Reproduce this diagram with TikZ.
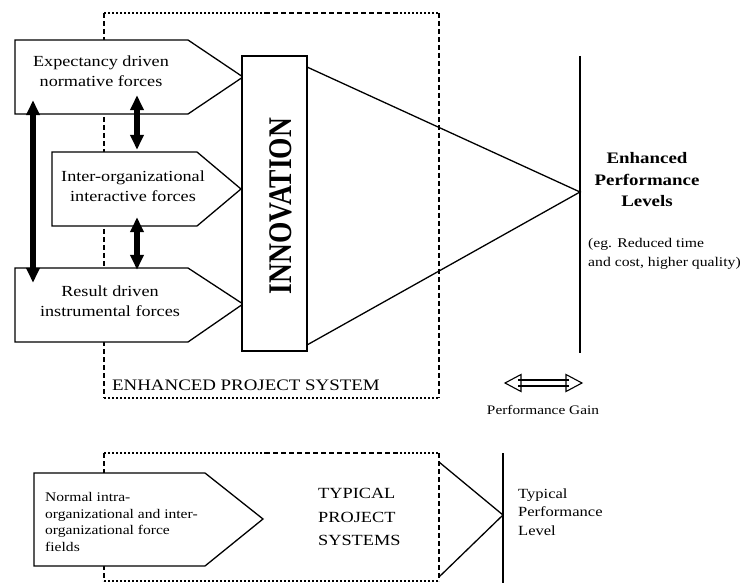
\documentclass[tikz,border=0pt]{standalone}
\usepackage{fontspec}
\setmainfont[FakeStretch=1.18]{Liberation Serif}
\newfontfamily\plainserif{Liberation Serif}
\usetikzlibrary{arrows.meta}
\tikzset{
  shapeline/.style={draw=black, line width=1.3pt, fill=white},
  boxdash/.style={line width=1.2pt, dash pattern=on 5pt off 3pt},
  boxdot/.style={line width=1.2pt, dash pattern=on 1.6pt off 2.4pt},
  thinline/.style={line width=1.3pt},
  levelline/.style={line width=2pt},
  bigarrow/.style={line width=5.5pt, {Triangle[length=15pt,width=13pt]}-{Triangle[length=15pt,width=13pt]}},
  lbl/.style={inner sep=0pt, align=center},
  forcetext/.style={lbl, font=\fontsize{15.4}{19.5}\selectfont},
  pt/.style={inner sep=0pt, minimum size=0pt}
}
\begin{document}
\begin{tikzpicture}[x=1pt,y=-1pt]
\useasboundingbox[fill=white] (0,0) rectangle (740,583);

% enhanced project system box
\coordinate (eTL) at (104,13);
\coordinate (eTR) at (439,13);
\coordinate (eBL) at (104,398);
\coordinate (eBR) at (439,398);
\draw[boxdot] (eTL) -- (265,13);
\draw[boxdash] (265,13) -- (400,13);
\draw[boxdot] (400,13) -- (eTR);
\draw[boxdash] (eTR) -- (eBR);
\draw[boxdash] (eTL) -- (eBL);
\draw[boxdot] (eBL) -- (eBR);

% force arrows
\draw[shapeline] (15,40) -- (188,40) -- (243,77) -- (188,114) -- (15,114) -- cycle;
\draw[shapeline] (52,152) -- (197,152) -- (241,189) -- (197,226) -- (52,226) -- cycle;
\draw[shapeline] (15,268) -- (188,268) -- (243,304) -- (188,342) -- (15,342) -- cycle;

\node[forcetext] (expect) at (101,71) {Expectancy driven\\normative forces};
\node[forcetext] (inter) at (133,186) {Inter-organizational\\interactive forces};
\node[forcetext] (result) at (110,301) {Result driven\\instrumental forces};

% black double arrows
\node[pt] (a1s) at (33,100) {};
\node[pt] (a1e) at (33,283) {};
\node[pt] (a2s) at (137,95) {};
\node[pt] (a2e) at (137,150) {};
\node[pt] (a3s) at (137,217) {};
\node[pt] (a3e) at (137,270) {};
\draw[bigarrow] (a1s) -- (a1e);
\draw[bigarrow] (a2s) -- (a2e);
\draw[bigarrow] (a3s) -- (a3e);

% innovation
\draw[shapeline] (242,56) rectangle (307,351);
\node[lbl, rotate=90] (innov) at (281,206) {\scalebox{1}[1.2]{\plainserif\bfseries\fontsize{27.5}{30}\selectfont INNOVATION}};

% cone
\node[pt] (c1) at (307,67) {};
\node[pt] (c2) at (307,345) {};
\node[pt] (tip) at (580,192) {};
\draw[thinline] (c1.center) -- (tip.center) -- (c2.center);
\node[pt] (lvTop) at (580,56) {};
\node[pt] (lvBot) at (580,353) {};
\draw[levelline] (lvTop.center) -- (lvBot.center);

\node[lbl, font=\bfseries\fontsize{16}{21.5}\selectfont] (enh) at (647,180) {Enhanced\\Performance\\Levels};
\node[lbl, anchor=west, align=left, font=\fontsize{13.3}{19}\selectfont] (eg) at (588,254) {(eg. Reduced time\\and cost, higher quality)};

\node[lbl, anchor=west, font=\fontsize{16}{18}\selectfont] (eps) at (112,385) {ENHANCED PROJECT SYSTEM};

% performance gain
\draw[line width=1.1pt] (505,383) -- (521,374.5) -- (521,391.5) -- cycle;
\draw[line width=1.1pt] (582,383) -- (566,374.5) -- (566,391.5) -- cycle;
\draw[line width=1.1pt] (518,380) -- (569,380);
\draw[line width=1.1pt] (518,386) -- (569,386);
\node[lbl, font=\fontsize{13}{15}\selectfont] (pg) at (543,410) {Performance Gain};

% typical project system box
\coordinate (tTL) at (104,453);
\coordinate (tTR) at (439,453);
\coordinate (tBL) at (104,581);
\coordinate (tBR) at (439,581);
\draw[boxdot] (tTL) -- (265,453);
\draw[boxdash] (265,453) -- (400,453);
\draw[boxdot] (400,453) -- (tTR);
\draw[boxdash] (tTR) -- (tBR);
\draw[boxdash] (tTL) -- (tBL);
\draw[boxdot] (tBL) -- (tBR);

\draw[shapeline] (34,473) -- (205,473) -- (263,519) -- (205,566) -- (34,566) -- cycle;
\node[lbl, anchor=west, align=left, font=\fontsize{13.2}{16.5}\selectfont] (normal) at (45,522) {Normal intra-\\organizational and inter-\\organizational force\\fields};

\node[lbl, anchor=west, align=left, font=\fontsize{15.5}{23.5}\selectfont] (typsys) at (318,517) {TYPICAL\\PROJECT\\SYSTEMS};

\node[pt] (d1) at (439,462) {};
\node[pt] (d2) at (439,577) {};
\node[pt] (tip2) at (503,515) {};
\draw[thinline] (d1.center) -- (tip2.center) -- (d2.center);
\node[pt] (tvTop) at (503,453) {};
\node[pt] (tvBot) at (503,583) {};
\draw[levelline] (tvTop.center) -- (tvBot.center);

\node[lbl, anchor=west, align=left, font=\fontsize{14}{18.5}\selectfont] (typlev) at (518,512) {Typical\\Performance\\Level};
\end{tikzpicture}
\end{document}
